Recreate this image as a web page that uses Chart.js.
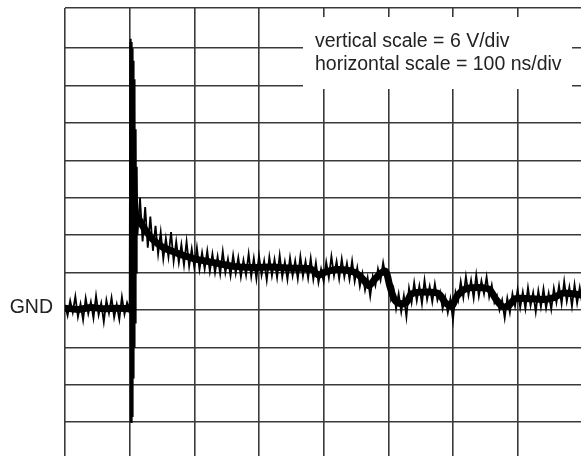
<!DOCTYPE html>
<html>
<head>
<meta charset="utf-8">
<script src="https://cdn.jsdelivr.net/npm/chart.js@4/dist/chart.umd.min.js"></script>
<style>
  html, body { margin: 0; padding: 0; background: #fff; }
  canvas { display: block; }
</style>
</head>
<body>
<canvas id="scope" width="581" height="456"></canvas>
<script>
// scope settings
const voltsPerDiv = 6;
const nsPerDiv = 100;
const scaleNotes = ["vertical scale = 6 V/div", "horizontal scale = 100 ns/div"];
const groundLabel = "GND";

// pre-trigger noise, one sample every 4 ns from 0 ns (volts)
const preStartNs = 0;
const preStepNs = 4;
const preTrigger = [
  0.8, -0.9, 1.5, -0.4, 2.2, -1.1, 1.0, -1.6, 1.9, -0.6,
  1.3, -1.3, 2.3, -0.8, 1.1, -1.9, 1.6, -0.5, 2.0, -1.2,
  0.9, -1.5, 2.1, -0.7, 1.2
];

// the edge itself, ringing sampled finer
const spikeTimes = [98, 100, 100.8, 101.4, 102, 102.6, 103.2, 103.8, 104.4, 105, 105.6, 106.2, 106.8, 107.4, 108, 108.7, 109.4, 110.2, 111];
const spikeVolts = [0.6, -0.5, 43, -18, 43.5, -18, 43, -17, 42, -15, 40, -11, 37, -6, 34, -2, 29, 6, 23];

// settling trace, one sample every 4 ns from 112 ns (volts)
const postStartNs = 112;
const postStepNs = 4;
const postTrigger = [
  12, 18, 11, 16.5, 10, 15, 9.5, 13.5, 9, 12.5,
  8.2, 11.5, 8.5, 12.5, 7.8, 11, 7.6, 10.5, 7.2, 11,
  7.0, 9.8, 6.8, 10, 6.5, 9.2, 6.6, 9.5, 6.2, 9.0,
  6.0, 8.6, 5.8, 9.4, 6.0, 8.2, 5.5, 8.8, 5.9, 8.4,
  5.3, 8.0, 5.6, 9.0, 5.4, 8.3, 5.0, 8.7, 5.6, 7.9,
  4.8, 8.5, 5.5, 8.1, 5.2, 8.8, 5.3, 7.7, 4.9, 8.4,
  5.5, 7.9, 5.0, 8.6, 5.4, 7.8, 5.1, 8.3, 4.9, 7.6,
  4.4, 6.6, 4.6, 7.7, 5.2, 8.6, 5.5, 7.8, 5.0, 8.2,
  5.3, 7.5, 4.9, 7.9, 4.6, 6.8, 3.8, 5.9, 3.2, 5.2,
  2.2, 5.4, 3.9, 6.6, 4.8, 7.6, 5.3, 5.8, 1.8, 3.4,
  0.2, 2.6, -0.3, 2.3, -1.1, 3.5, 1.2, 4.4, 1.5, 3.9,
  1.0, 4.8, 1.7, 3.8, 1.3, 4.2, 1.6, 2.9, 0.2, 2.1,
  -0.4, 1.8, -1.6, 2.9, 1.5, 4.6, 2.0, 5.4, 2.4, 4.8,
  1.9, 5.6, 2.2, 4.7, 2.6, 5.3, 2.1, 4.0, 1.2, 2.3,
  0.0, 1.6, -1.3, 1.9, -0.4, 2.6, 0.6, 3.3, 0.4, 2.9,
  0.2, 3.6, 0.7, 2.8, -0.3, 3.1, 0.5, 3.4, 0.3, 2.7,
  0.1, 3.5, 1.2, 3.9, 1.0, 4.6, 1.4, 3.7, 0.6, 4.1,
  1.1, 3.6, 0.9
];

// dense centre of the noise band (volts at given ns)
const coreTimes = [0, 20, 40, 60, 80, 99,
  112, 120, 128, 136, 144, 152, 164, 176, 188, 200, 220, 240, 260, 290,
  320, 350, 380, 392, 400, 420, 440, 452, 462, 470, 478, 488, 496, 502,
  510, 520, 528, 536, 560, 578, 588, 598, 606, 620, 640, 656, 666, 676,
  686, 696, 720, 740, 756, 770, 785, 798];
const coreVolts = [0.3, 0.1, 0.4, 0.2, 0.3, 0.2,
  15, 13.5, 12.3, 11.3, 10.6, 10.0, 9.5, 9.0, 8.6, 8.2, 7.8, 7.4, 7.0, 6.8,
  6.9, 6.7, 6.6, 5.6, 6.0, 6.5, 6.3, 5.8, 4.8, 3.9, 4.8, 5.9, 6.2, 4.0,
  1.6, 1.0, 1.2, 2.6, 2.9, 2.6, 1.2, 0.6, 2.2, 3.4, 3.6, 3.3, 1.8, 0.6,
  0.7, 1.8, 1.8, 1.7, 2.0, 2.7, 2.6, 2.4];

// screen window
const timeMin = 0, timeMax = 798;
const voltMin = -23.42, voltMax = 48.45;
const timeTicks = [0, 100, 200, 300, 400, 500, 600, 700];
const voltTicks = [-18, -12, -6, 0, 6, 12, 18, 24, 30, 36, 42, voltMax];

const trace = [];
preTrigger.forEach((v, i) => trace.push({ x: preStartNs + i * preStepNs, y: v }));
spikeTimes.forEach((t, i) => trace.push({ x: t, y: spikeVolts[i] }));
postTrigger.forEach((v, i) => trace.push({ x: postStartNs + i * postStepNs, y: v }));

const preCore = [], postCore = [];
coreTimes.forEach((t, i) => (t < 100 ? preCore : postCore).push({ x: t, y: coreVolts[i] }));

const FONT = '"Liberation Sans", Arial, sans-serif';

const labels = {
  id: "labels",
  afterDraw(chart) {
    const ctx = chart.ctx;
    const y = chart.scales.y;
    ctx.save();
    // note box punched out of the graticule
    ctx.fillStyle = "#fff";
    ctx.fillRect(303, 17, 269, 72);
    ctx.fillStyle = "#222";
    ctx.font = "19.5px " + FONT;
    ctx.textAlign = "left";
    ctx.textBaseline = "alphabetic";
    ctx.fillText(scaleNotes[0], 315, 47);
    ctx.fillText(scaleNotes[1], 315, 70);
    // ground marker
    ctx.textAlign = "right";
    ctx.textBaseline = "middle";
    ctx.fillText(groundLabel, chart.chartArea.left - 12, y.getPixelForValue(0) - 2);
    ctx.restore();
  }
};

const coreStyle = { borderColor: "#000", borderWidth: 7, pointRadius: 0, tension: 0.3, fill: false,
  borderCapStyle: "round", borderJoinStyle: "round" };

new Chart(document.getElementById("scope"), {
  type: "line",
  data: {
    datasets: [
      { data: trace, borderColor: "#000", borderWidth: 1.8, pointRadius: 0, tension: 0, fill: false },
      Object.assign({ data: preCore }, coreStyle),
      Object.assign({ data: postCore }, coreStyle)
    ]
  },
  options: {
    responsive: false,
    animation: false,
    devicePixelRatio: 1,
    layout: { padding: { left: 65, top: 8, right: 0, bottom: 0 } },
    plugins: { legend: { display: false }, tooltip: { enabled: false } },
    scales: {
      x: {
        type: "linear",
        min: timeMin,
        max: timeMax,
        afterBuildTicks: s => { s.ticks = timeTicks.map(v => ({ value: v })); },
        ticks: { display: false },
        border: { display: false },
        grid: { color: "#3a3a3a", lineWidth: 1.6, drawTicks: false }
      },
      y: {
        type: "linear",
        min: voltMin,
        max: voltMax,
        afterBuildTicks: s => { s.ticks = voltTicks.map(v => ({ value: v })); },
        ticks: { display: false },
        border: { display: false },
        grid: { color: "#3a3a3a", lineWidth: 1.6, drawTicks: false }
      }
    }
  },
  plugins: [labels]
});
</script>
</body>
</html>
